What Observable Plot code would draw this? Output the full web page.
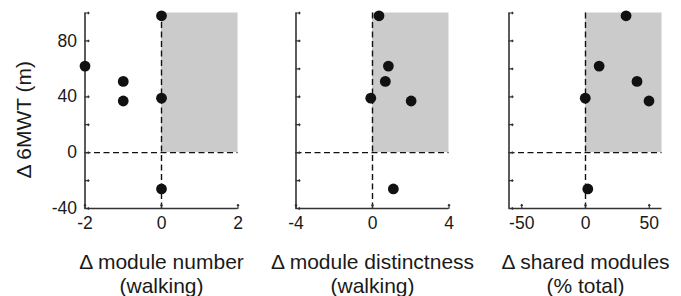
<!DOCTYPE html>
<html>
<head>
<meta charset="utf-8">
<script src="https://cdn.jsdelivr.net/npm/d3@7"></script>
<script src="https://cdn.jsdelivr.net/npm/@observablehq/plot@0.6"></script>
<style>
  html, body { margin: 0; padding: 0; background: #fff; }
  #wrap { position: relative; width: 681px; height: 296px; overflow: hidden; }
  .panel { position: absolute; top: 0; }
</style>
</head>
<body>
<div id="wrap"></div>
<script>
// ---- data ----
const dMWT = [98, 62, 51, 37, 39, -26];
const dModuleNumber = [0, -2, -1, -1, 0, 0];
const dModuleDistinctness = [0.34, 0.83, 0.67, 2.02, -0.09, 1.09];
const dSharedModules = [31.8, 10.7, 40.4, 49.8, -0.2, 1.8];

const yDomain = [-40, 100];
const yTickMarks = [-40, -20, 0, 20, 40, 60, 80, 100];
const yTickLabels = [-40, 0, 40, 80];
const yLabel = "Δ 6MWT (m)";

const xDomains = [[-2, 2], [-4, 4], [-60, 60]];
const xTickLabels = [[-2, 0, 2], [-4, 0, 4], [-50, 0, 50]];
const xLabels = ["Δ module number\n(walking)", "Δ module distinctness\n(walking)", "Δ shared modules\n(% total)"];
const xSeries = [dModuleNumber, dModuleDistinctness, dSharedModules];

const offsets = [0, 211, 424];
const FONT = "'Liberation Sans', Arial, Helvetica, sans-serif";
const INK = "#1a1a1a";
const fmt = d => String(d);

function panel(i) {
  const domain = xDomains[i];
  const pts = dMWT.map((y, k) => ({x: xSeries[i][k], y}));
  const marks = [
    Plot.rect([{x1: 0, x2: domain[1], y1: 0, y2: yDomain[1]}], {x1: "x1", x2: "x2", y1: "y1", y2: "y2", fill: "#cbcbcc"}),
    Plot.ruleX([0], {stroke: "#111", strokeWidth: 1.4, strokeDasharray: "6,3.5"}),
    Plot.ruleY([0], {stroke: "#111", strokeWidth: 1.4, strokeDasharray: "6,3.5"}),
    Plot.ruleX([domain[0]], {stroke: "#333", strokeWidth: 1.6}),
    Plot.ruleY([yDomain[0]], {stroke: "#333", strokeWidth: 1.6}),
    Plot.vector(yTickMarks, {x: domain[0], y: d => d, length: 4, rotate: 90, anchor: "start", stroke: "#333", strokeWidth: 1.2}),
    Plot.vector(xTickLabels[i], {x: d => d, y: yDomain[0], length: 4, rotate: 0, anchor: "start", stroke: "#333", strokeWidth: 1.2}),
    Plot.axisX({ticks: xTickLabels[i], tickFormat: fmt, tickSize: 0, tickPadding: 8, fontSize: 17.5, label: null}),
    Plot.dot(pts, {x: "x", y: "y", r: 5.4, fill: "#111", stroke: "none"}),
    Plot.text([xLabels[i]], {frameAnchor: "bottom", textAnchor: "middle", lineAnchor: "top", dy: 44.5, lineHeight: 1.1, fontSize: 21, text: d => d, fill: INK})
  ];
  if (i === 0) {
    marks.push(Plot.axisY({ticks: yTickLabels, tickFormat: fmt, tickSize: 0, tickPadding: 8, fontSize: 17.5, label: null}));
    marks.push(Plot.text([yLabel], {frameAnchor: "left", textAnchor: "middle", lineAnchor: "middle", dx: -60.5, dy: 9, rotate: -90, fontSize: 21, text: d => d, fill: INK}));
  }
  return Plot.plot({
    width: 250,
    height: 296,
    marginLeft: 84.5,
    marginRight: 12.5,
    marginTop: 12.5,
    marginBottom: 88,
    x: {domain, axis: null},
    y: {domain: yDomain, axis: i === 0 ? undefined : null},
    style: {background: "transparent", fontFamily: FONT, color: INK, overflow: "visible"},
    marks
  });
}

const wrap = document.getElementById("wrap");
for (let i = 0; i < 3; i++) {
  const div = document.createElement("div");
  div.className = "panel";
  div.style.left = offsets[i] + "px";
  div.appendChild(panel(i));
  wrap.appendChild(div);
}
</script>
</body>
</html>
